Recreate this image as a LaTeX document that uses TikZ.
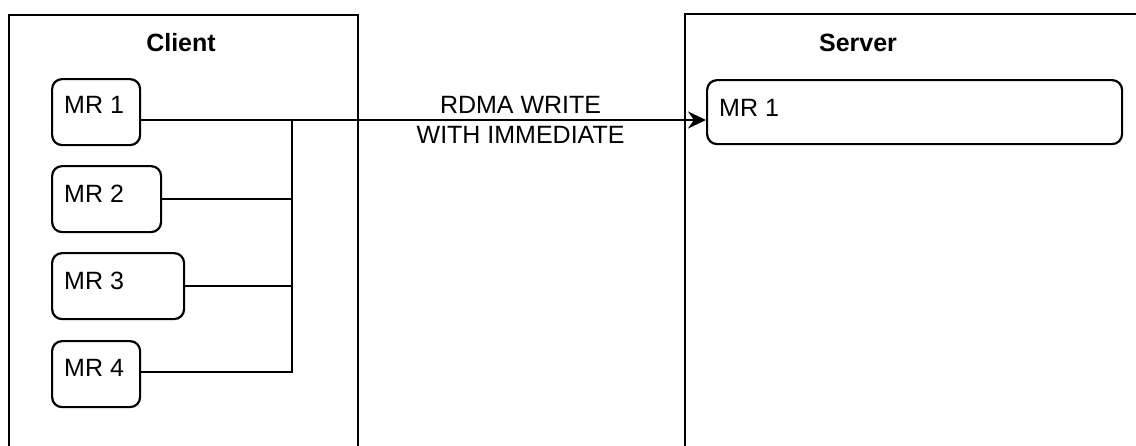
\documentclass[tikz,border=0pt]{standalone}
\usepackage{fontspec}
\setmainfont{Liberation Sans}
\usetikzlibrary{arrows.meta,calc}
\begin{document}
\begin{tikzpicture}[x=1pt,y=-1pt,
  frame/.style={draw, line width=2.2pt, inner sep=0pt, anchor=north west},
  mrbox/.style={draw, line width=2.2pt, rounded corners=10pt, inner sep=0pt, anchor=north west},
  lbl/.style={anchor=base west, inner sep=0pt, font=\fontsize{25}{30}\selectfont},
  ttl/.style={anchor=base, inner sep=0pt, font=\bfseries\fontsize{25}{30}\selectfont},
  wire/.style={line width=2.2pt},
  arr/.style={line width=2.2pt, -{Stealth[length=18pt,width=17pt,inset=6pt]}}]
\useasboundingbox (0,0) rectangle (1136,445);
\clip (0,0) rectangle (1136,445);
% containers
\node[frame, minimum width=349pt, minimum height=480pt] (client) at (8,14) {};
\node[frame, minimum width=480pt, minimum height=480pt] (server) at (684,13) {};
\node[ttl] (clientT) at (181,51) {Client};
\node[ttl] (serverT) at (858,51) {Server};
% client memory regions
\node[mrbox, minimum width=88pt, minimum height=66pt] (c1) at (51,78) {};
\node[mrbox, minimum width=109pt, minimum height=66pt] (c2) at (51,165) {};
\node[mrbox, minimum width=132pt, minimum height=66pt] (c3) at (51,252) {};
\node[mrbox, minimum width=88pt, minimum height=66pt] (c4) at (51,340) {};
\node[lbl] (c1t) at (64,113) {MR 1};
\node[lbl] (c2t) at (64,202) {MR 2};
\node[lbl] (c3t) at (64,289) {MR 3};
\node[lbl] (c4t) at (64,376) {MR 4};
% server memory region
\node[mrbox, minimum width=415pt, minimum height=64pt] (s1) at (706,79) {};
\node[lbl] (s1t) at (719,116) {MR 1};
% bus
\coordinate (o1) at (139,120);
\coordinate (j1) at (292,120);
\coordinate (j4) at (292,372);
\coordinate (i1) at (706,120);
\draw[wire] (c2.east) -- (c2.east -| j1);
\draw[wire] (c3.east) -- (c3.east -| j1);
\draw[wire] (c4.east |- j4) -- (j4) -- (j1);
\draw[arr] (o1) -- node[pos=0.673, align=center, inner sep=0pt, font=\fontsize{25}{30}\selectfont] (lab) {RDMA WRITE\\WITH IMMEDIATE} (i1);
\end{tikzpicture}
\end{document}
